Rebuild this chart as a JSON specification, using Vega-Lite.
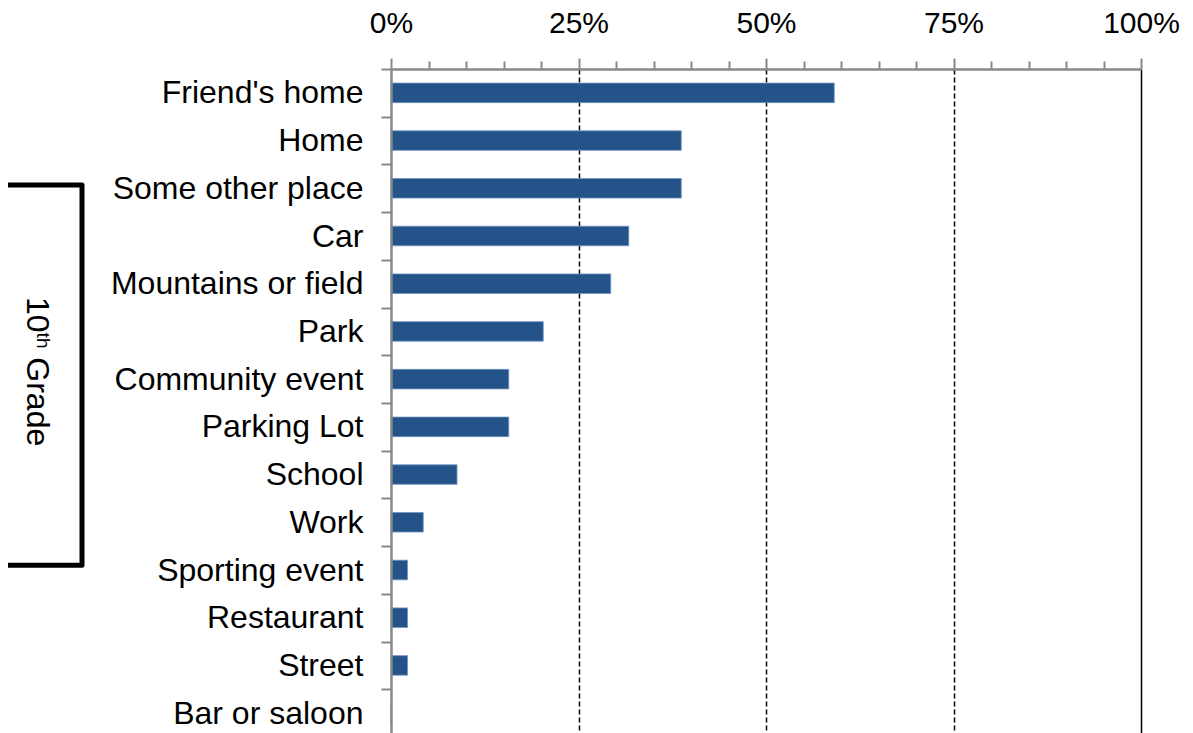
{
  "$schema": "https://vega.github.io/schema/vega-lite/v6.json",
  "width": 750,
  "height": 668,
  "autosize": {"type": "none"},
  "padding": {"left": 391, "top": 69, "right": 52, "bottom": 0},
  "background": "white",
  "config": {
    "view": {"stroke": null},
    "font": "Liberation Sans"
  },
  "datasets": {
    "places": [
      {"place": "Friend's home", "pct": 0.591},
      {"place": "Home", "pct": 0.387},
      {"place": "Some other place", "pct": 0.387},
      {"place": "Car", "pct": 0.317},
      {"place": "Mountains or field", "pct": 0.293},
      {"place": "Park", "pct": 0.203},
      {"place": "Community event", "pct": 0.157},
      {"place": "Parking Lot", "pct": 0.157},
      {"place": "School", "pct": 0.088},
      {"place": "Work", "pct": 0.043},
      {"place": "Sporting event", "pct": 0.022},
      {"place": "Restaurant", "pct": 0.022},
      {"place": "Street", "pct": 0.022},
      {"place": "Bar or saloon", "pct": 0.0}
    ],
    "bracket": [
      {"i": 0, "bx": -0.5107, "by": 2.43},
      {"i": 1, "bx": -0.412, "by": 2.43},
      {"i": 2, "bx": -0.412, "by": 10.4},
      {"i": 3, "bx": -0.5107, "by": 10.4}
    ],
    "grade": [
      {"part": "10", "tx": -0.4853, "ty": 4.778},
      {"part": "th", "tx": -0.472, "ty": 5.525},
      {"part": "Grade", "tx": -0.4853, "ty": 6.042}
    ]
  },
  "layer": [
    {
      "data": {"name": "places"},
      "mark": {"type": "bar", "color": "#24538a", "stroke": "#7194c2", "strokeWidth": 0.8, "height": {"band": 0.41}},
      "encoding": {
        "y": {
          "field": "place",
          "type": "nominal",
          "sort": null,
          "scale": {"paddingInner": 0, "paddingOuter": 0},
          "axis": {
            "title": null,
            "orient": "left",
            "zindex": 1,
            "tickBand": "extent",
            "tickSize": 10,
            "tickColor": "#898989",
            "tickWidth": 2,
            "domainColor": "#898989",
            "domainWidth": 2.5,
            "labelFontSize": 32,
            "labelColor": "black",
            "labelPadding": 18,
            "labelLimit": 400,
            "grid": false
          }
        },
        "x": {
          "field": "pct",
          "type": "quantitative",
          "scale": {"domain": [0, 1], "nice": false},
          "axis": {
            "title": null,
            "orient": "top",
            "values": [0, 0.05, 0.1, 0.15, 0.2, 0.25, 0.3, 0.35, 0.4, 0.45, 0.5, 0.55, 0.6, 0.65, 0.7, 0.75, 0.8, 0.85, 0.9, 0.95, 1],
            "format": ".0%",
            "labelExpr": "round(datum.value*100) % 25 == 0 ? datum.label : ''",
            "labelFontSize": 30,
            "labelColor": "black",
            "labelPadding": 20,
            "labelFlush": false,
            "labelOverlap": false,
            "domainColor": "#898989",
            "domainWidth": 2.5,
            "tickColor": "#898989",
            "tickWidth": 2,
            "tickSize": {"condition": {"test": "round(datum.value*100) % 25 == 0", "value": 11}, "value": 8},
            "grid": true,
            "gridColor": "black",
            "gridWidth": 1.5,
            "gridOpacity": {"condition": {"test": "round(datum.value*100) % 25 == 0 && datum.value > 0", "value": 1}, "value": 0},
            "gridDash": {"condition": {"test": "datum.value > 0.99", "value": []}, "value": [5, 3]}
          }
        }
      }
    },
    {
      "layer": [
        {
          "data": {"name": "bracket"},
          "mark": {"type": "line", "color": "black", "strokeWidth": 5, "strokeJoin": "round"},
          "encoding": {
            "x": {"field": "bx", "type": "quantitative", "axis": null},
            "y": {"field": "by", "type": "quantitative", "scale": {"domain": [0, 14], "reverse": true, "nice": false, "zero": false}, "axis": null},
            "order": {"field": "i", "type": "quantitative"}
          }
        },
        {
          "data": {"name": "grade"},
          "transform": [{"filter": "datum.part != 'th'"}],
          "mark": {"type": "text", "angle": 90, "align": "left", "baseline": "alphabetic", "fontSize": 32, "color": "black"},
          "encoding": {
            "x": {"field": "tx", "type": "quantitative", "axis": null},
            "y": {"field": "ty", "type": "quantitative", "axis": null},
            "text": {"field": "part"}
          }
        },
        {
          "data": {"name": "grade"},
          "transform": [{"filter": "datum.part == 'th'"}],
          "mark": {"type": "text", "angle": 90, "align": "left", "baseline": "alphabetic", "fontSize": 19, "color": "black"},
          "encoding": {
            "x": {"field": "tx", "type": "quantitative", "axis": null},
            "y": {"field": "ty", "type": "quantitative", "axis": null},
            "text": {"field": "part"}
          }
        }
      ],
      "resolve": {"axis": {"x": "independent"}}
    }
  ],
  "resolve": {"scale": {"y": "independent"}, "axis": {"y": "independent", "x": "independent"}}
}
